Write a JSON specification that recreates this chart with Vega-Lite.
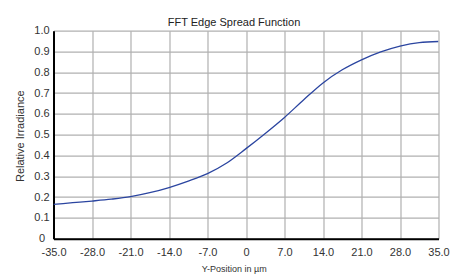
{
  "$schema": "https://vega.github.io/schema/vega-lite/v6.json",
  "autosize": "none",
  "width": 385,
  "height": 208,
  "padding": {"left": 53.5, "top": 30.7, "right": 14.5, "bottom": 35.3},
  "background": "white",
  "config": {
    "view": {"stroke": null},
    "font": "Liberation Sans"
  },
  "title": {
    "text": "FFT Edge Spread Function",
    "fontSize": 11,
    "fontWeight": "normal",
    "color": "#222",
    "font": "Liberation Sans",
    "frame": "group",
    "baseline": "alphabetic",
    "offset": 5,
    "dx": -12,
    "dy": 17
  },
  "data": {
    "values": [
      {"y": -35, "irr": 0.165},
      {"y": -31.5, "irr": 0.173},
      {"y": -28, "irr": 0.181},
      {"y": -24.5, "irr": 0.19},
      {"y": -21, "irr": 0.202},
      {"y": -17.5, "irr": 0.221},
      {"y": -14, "irr": 0.246},
      {"y": -10.5, "irr": 0.277},
      {"y": -7, "irr": 0.313},
      {"y": -3.5, "irr": 0.364},
      {"y": 0, "irr": 0.433},
      {"y": 3.5, "irr": 0.506},
      {"y": 7, "irr": 0.583},
      {"y": 10.5, "irr": 0.668},
      {"y": 14, "irr": 0.749},
      {"y": 17.5, "irr": 0.812},
      {"y": 21, "irr": 0.86},
      {"y": 24.5, "irr": 0.898},
      {"y": 28, "irr": 0.926},
      {"y": 31.5, "irr": 0.943},
      {"y": 35, "irr": 0.948}
    ]
  },
  "mark": {"type": "line", "interpolate": "monotone", "color": "#2b45a0", "strokeWidth": 1.3, "clip": true},
  "encoding": {
    "x": {
      "field": "y",
      "type": "quantitative",
      "scale": {"domain": [-35, 35], "nice": false, "zero": false},
      "axis": {
        "values": [-35, -28, -21, -14, -7, 0, 7, 14, 21, 28, 35],
        "labelExpr": "datum.value == 0 ? '0' : (datum.value < 0 ? '-' + format(-datum.value, '.1f') : format(datum.value, '.1f'))",
        "title": "Y-Position in µm",
        "titleFontSize": 9,
        "titleFontWeight": "normal",
        "titleColor": "#333",
        "titleX": 180.2,
        "titleY": 33,
        "titleBaseline": "alphabetic",
        "labelFontSize": 11,
        "labelColor": "#333",
        "labelPadding": 8,
        "labelFlush": false,
        "labelOverlap": false,
        "ticks": false,
        "domainColor": "#000",
        "domainWidth": 2,
        "gridColor": "#b0b0b0",
        "gridWidth": 1.2
      }
    },
    "y": {
      "field": "irr",
      "type": "quantitative",
      "scale": {"domain": [0, 1], "nice": false},
      "axis": {
        "values": [0, 0.1, 0.2, 0.3, 0.4, 0.5, 0.6, 0.7, 0.8, 0.9, 1.0],
        "labelExpr": "datum.value == 0 ? '0' : format(datum.value, '.1f')",
        "title": "Relative Irradiance",
        "titleFontSize": 11,
        "titleFontWeight": "normal",
        "titleColor": "#333",
        "titleX": -33,
        "titleY": 105,
        "titleBaseline": "middle",
        "labelFontSize": 11,
        "labelColor": "#333",
        "labelAlign": "center",
        "labelPadding": 12,
        "labelFlush": false,
        "labelOverlap": false,
        "ticks": false,
        "domainColor": "#000",
        "domainWidth": 2,
        "gridColor": "#b0b0b0",
        "gridWidth": 1.2
      }
    }
  }
}
